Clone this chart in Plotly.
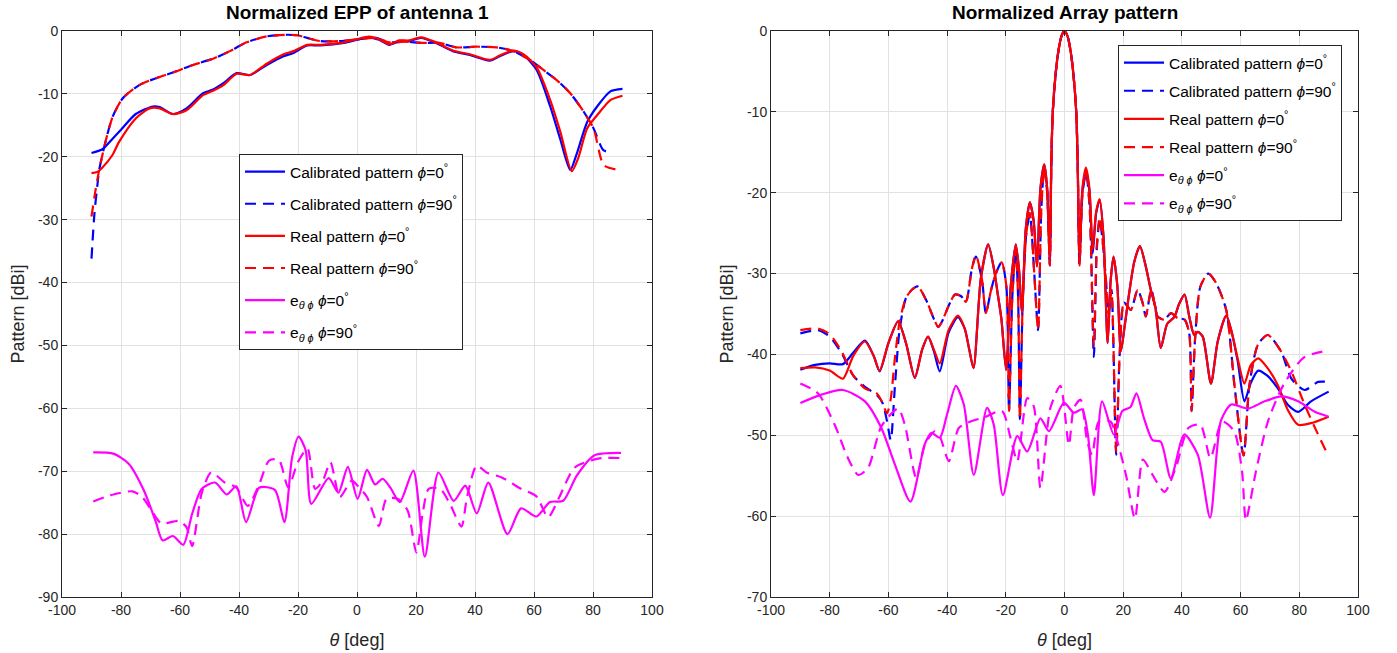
import plotly.graph_objects as go

FONT = "Liberation Sans, Arial, sans-serif"

# ---------------- Left panel: Normalized EPP of antenna 1 ----------------
th_epp_cal0 = [-90, -86.3, -83, -80, -75, -69.2, -66.9, -62.4, -57.8, -52.2, -48.8, -45.3, -40.8, -36.3,
               -30.6, -24.9, -21.5, -16.9, -12.4, -4.4, 0, 4.1, 7.5, 10.9, 14.3, 17.7, 21.7, 26.8, 32.5,
               38.2, 45, 48.4, 53, 56.4, 60.9, 65.5, 68.9, 72.3, 74.5, 78, 81.4, 85.9, 90]
epp_cal0 = [-19.4, -18.8, -17.2, -15.7, -13.2, -12.0, -12.1, -13.2, -12.3, -9.9, -9.3, -8.3, -6.7, -7.0,
            -5.4, -4.0, -3.5, -2.3, -2.3, -1.9, -1.4, -1.0, -1.4, -2.2, -1.6, -1.6, -1.1, -1.9, -3.2,
            -3.8, -4.7, -4.0, -3.2, -3.8, -6.2, -12.0, -17.2, -22.1, -19.5, -14.5, -12.0, -9.6, -9.2]

th_epp_real0 = [-90, -88, -86.3, -83, -80.6, -75, -70.3, -66.9, -62.4, -57.8, -52.2, -48.8, -45.3, -40.8,
                -36.3, -30.6, -24.9, -21.5, -16.9, -12.4, -4.4, 0, 4.1, 7.5, 10.9, 14.3, 17.7, 21.7, 26.8,
                32.5, 38.2, 45, 48.4, 53, 56.4, 60.9, 65.5, 68.9, 72.8, 75, 78, 81.4, 85.9, 90]
epp_real0 = [-22.6, -22.4, -21.7, -19.8, -17.6, -13.9, -12.3, -12.3, -13.2, -12.6, -10.2, -9.5, -8.6, -6.8,
             -7.0, -5.2, -3.7, -3.2, -2.2, -2.2, -1.8, -1.3, -0.9, -1.3, -2.1, -1.5, -1.5, -1.0, -1.8,
             -3.1, -3.7, -4.6, -3.9, -3.1, -3.7, -5.8, -11.0, -16.0, -22.3, -20.2, -15.5, -13.4, -11.0, -10.3]

th_epp_90 = [-87.4, -85.1, -82.8, -79.4, -73.8, -68.1, -62.4, -55.6, -48.8, -43.1, -37.4, -30.6, -23.8,
             -20, -16.9, -12.4, -5.6, 0, 6.4, 10.9, 16, 22.3, 28, 33.6, 40.5, 47.3, 53, 58.6, 63.2, 67.7,
             72.3, 76.8, 80.2, 83.6]
epp_90_common = [-22.1, -17.3, -13.6, -10.7, -8.6, -7.5, -6.6, -5.4, -4.4, -3.2, -1.8, -0.85, -0.6,
                 -0.7, -1.1, -1.6, -1.6, -1.3, -1.1, -1.8, -1.7, -1.9, -1.9, -2.6, -2.5, -2.6, -3.2, -4.6,
                 -6.2, -7.8, -9.9, -12.8, -15.5]
th_cal90_start = [-90, -89, -88]
cal90_start = [-36.2, -29.0, -24.5]
cal90_end_th = [83.6, 86.5, 90]
cal90_end = [-17.9, -19.0, -19.2]
th_real90_start = [-90, -88.7]
real90_start = [-29.5, -25.5]
real90_end_th = [83.6, 87.6, 90]
real90_end = [-18.7, -21.3, -22.0]

th_e0 = [-89.4, -82.6, -77.4, -72.2, -68.3, -65.9, -62.4, -58.9, -55.9, -52.6, -48.1, -44.2, -40.9, -37.6,
         -33.1, -27.8, -24.6, -22.0, -19.8, -17.4, -15.5, -9.6, -6.3, -3.1, 0.2, 3.4, 6.1, 8.7, 11.3, 14.5,
         19.1, 23.0, 27.6, 32.8, 36.7, 40.6, 44.5, 51.0, 55.6, 60.8, 65.4, 69.9, 74.5, 80.4, 89.5]
e0 = [-67.0, -67.2, -68.8, -73.1, -77.9, -81.0, -80.3, -81.7, -76.8, -72.8, -71.8, -73.7, -72.4, -78.1,
      -72.6, -73.0, -78.1, -67.8, -64.5, -66.7, -75.2, -71.1, -73.4, -69.3, -74.4, -69.8, -72.1, -71.2,
      -72.6, -74.9, -69.9, -83.6, -70.2, -74.7, -72.3, -76.7, -71.8, -80.0, -75.9, -77.2, -74.9, -74.7,
      -70.7, -67.5, -67.1]

th_e90 = [-89.4, -82.6, -76.1, -72.8, -69.6, -66.3, -60.4, -57.8, -55.9, -52.6, -49.4, -44.8, -40.9, -37.0,
          -33.1, -29.8, -26.5, -23.3, -20.1, -16.8, -14.2, -11.6, -9.0, -5.8, -1.8, 0.2, 3.4, 7.4, 10.0,
          13.9, 17.2, 20.1, 22.4, 24.3, 28.2, 31.5, 35.4, 37.3, 40.6, 43.9, 49.1, 55.6, 60.8, 64.8, 68.6,
          73.8, 81.7, 89.5]
e90 = [-74.8, -73.7, -73.2, -74.1, -76.3, -78.3, -77.9, -78.9, -81.9, -73.4, -70.2, -71.8, -72.6, -75.5,
       -72.0, -68.3, -68.2, -72.6, -68.6, -66.4, -72.8, -71.5, -68.6, -74.1, -71.5, -72.3, -74.1, -78.7,
       -74.4, -74.4, -76.3, -82.9, -76.3, -72.8, -72.8, -75.2, -78.8, -74.1, -69.1, -70.2, -71.0, -72.8,
       -74.0, -77.3, -74.1, -69.4, -68.0, -67.9]

# ---------------- Right panel: Normalized Array pattern ----------------
th_arr0 = [-90, -85, -80, -75.5, -72, -68, -65, -63, -60, -56.7, -54, -51, -48.5, -46.5, -44.5, -42.5,
           -39.5, -36.3, -34, -32.5, -31, -28.5, -26, -24, -22.8, -21.5, -19.9, -18.3, -16.6, -15.5,
           -14.5, -13.2, -11.8, -10.5, -9.4, -8.2, -6.9, -5.9, -5.0, -4.5, -4, -3, -2, -1, 0, 1, 2, 3,
           4, 4.5, 5.1, 6.1, 7.3, 8.5, 9.6, 10.8, 12, 13.3, 14.7, 15.7, 16.7, 18, 19.2, 20.5, 22, 23.8,
           25.7, 27.5, 29.4, 31, 32.8, 35, 37.4, 39, 40.9, 42.5, 44.2, 45.4, 47.1, 49.9, 52.2, 55.1,
           56.8, 59, 61.3, 63.5, 66, 69, 72.7, 76, 79.6, 84, 90]
arr_cal0 = [-41.9, -41.3, -41.1, -41.2, -39.8, -38.3, -40.2, -42.1, -38.6, -35.9, -38.6, -42.9, -39.4,
            -37.8, -39.6, -42.1, -37.3, -35.4, -36.8, -39.3, -41.7, -30.6, -26.4, -29.5, -32.4, -35.6,
            -41.9, -31.5, -26.4, -29.5, -34.9, -24.5, -21.2, -23.5, -29.1, -19.5, -16.5, -19.5, -28.9,
            -16.5, -10.0, -5.2, -2.3, -0.6, 0.0, -0.6, -2.3, -5.2, -10.0, -16.5, -28.7, -19.8, -17.4,
            -19.8, -27.5, -22.5, -20.9, -25.5, -38.6, -31.0, -27.9, -31.5, -39.6, -36.5, -32.5, -28.5,
            -26.6, -28.8, -32.0, -34.2, -39.2, -36.2, -35.4, -33.8, -32.6, -35.3, -37.6, -37.2, -37.8,
            -43.6, -38.4, -35.2, -37.0, -40.8, -45.8, -43.5, -42.0, -42.6, -44.2, -46.2, -47.1, -45.8,
            -44.6]
arr_real0 = [-41.7, -41.6, -42.0, -43.0, -40.2, -38.4, -40.2, -42.0, -38.6, -35.9, -38.6, -42.9, -39.4,
             -37.8, -39.4, -41.1, -37.0, -35.2, -36.8, -39.3, -41.7, -30.6, -26.4, -29.5, -32.4, -35.6,
             -41.9, -31.5, -26.4, -29.5, -34.9, -24.5, -21.2, -23.5, -29.1, -19.5, -16.5, -19.5, -28.9,
             -16.5, -10.0, -5.2, -2.3, -0.6, 0.0, -0.6, -2.3, -5.2, -10.0, -16.5, -28.7, -19.5, -16.9,
             -19.5, -27.0, -22.3, -20.8, -25.5, -38.6, -31.0, -27.9, -31.5, -39.6, -36.5, -32.5, -28.5,
             -26.6, -28.8, -32.0, -34.2, -39.2, -36.2, -35.4, -33.8, -32.6, -35.3, -37.6, -37.2, -37.8,
             -43.6, -38.4, -35.2, -37.0, -40.5, -43.6, -41.3, -40.5, -41.6, -43.8, -46.8, -48.7, -48.5,
             -47.7]

th_arr90 = [-90, -84, -80, -76, -72, -68, -64, -62, -60.5, -59.2, -57.8, -56.2, -54, -52, -50, -47.1,
            -44.4, -43, -41.7, -39.5, -37.3, -35.2, -33.6, -31.6, -30.2, -28.1, -26.8, -25, -23.4, -21.4,
            -19.8, -18.9, -17.8, -16.6, -15.8, -15.2, -14.2, -13, -11.8, -10.3, -9, -7.9, -6.9, -5.9,
            -5.0, -4.5, -4, -3, -2, -1, 0, 1, 2, 3, 4, 4.5, 5.1, 6.2, 7.4, 8.6, 10, 11, 12, 13, 14.1,
            15, 16, 17.6, 18.8, 20.3, 22.6, 24.9, 26.6, 27.7, 29.6, 31.7, 34, 36.3, 38.5, 40.9, 42.5,
            43.3, 44.5, 46.3, 49, 51.7, 55.1, 57.9, 61, 63, 65.9, 69.3, 73.9, 77.3, 81.8, 86.4, 90]
arr_cal90 = [-37.4, -37.0, -37.8, -39.8, -42.6, -44.0, -45.0, -46.0, -48.2, -50.6, -44.0, -37.0, -33.0,
             -32.0, -31.6, -33.3, -35.7, -36.6, -35.9, -34.0, -32.6, -32.8, -33.5, -29.5, -27.9, -30.8,
             -34.9, -32.0, -30.0, -28.6, -31.6, -47.0, -33.0, -27.2, -33.0, -48.0, -33.0, -25.0, -22.7,
             -30.0, -37.0, -22.0, -17.0, -20.0, -29.0, -16.5, -10.0, -5.2, -2.3, -0.6, 0.0, -0.6, -2.3,
             -5.2, -10.0, -16.5, -29.0, -19.8, -17.6, -22.0, -40.3, -27.0, -23.3, -26.0, -30.7, -35.0,
             -32.0, -52.4, -40.0, -33.6, -34.5, -32.0, -33.6, -35.3, -32.0, -35.3, -35.7, -34.9, -35.5,
             -35.7, -37.4, -47.0, -38.0, -31.6, -30.0, -31.2, -34.5, -43.8, -52.5, -43.8, -38.8, -37.6,
             -39.7, -43.0, -44.4, -43.4, -43.4]
arr_real90 = [-37.0, -36.8, -37.5, -39.6, -42.6, -44.2, -44.8, -46.0, -47.3, -45.5, -40.5, -36.0, -33.0,
              -32.0, -31.6, -33.3, -35.7, -36.6, -35.9, -34.0, -32.6, -32.8, -33.5, -29.5, -27.7, -30.8,
              -34.9, -32.0, -30.0, -28.6, -31.6, -47.0, -33.0, -27.0, -33.0, -48.0, -33.0, -25.0, -22.5,
              -30.0, -37.0, -22.0, -17.0, -20.0, -29.0, -16.5, -10.0, -5.2, -2.3, -0.6, 0.0, -0.6, -2.3,
              -5.2, -10.0, -16.5, -29.0, -19.5, -17.2, -22.0, -39.0, -26.5, -23.0, -26.0, -30.7, -35.0,
              -32.0, -52.0, -40.0, -33.6, -34.5, -32.0, -33.6, -35.3, -32.0, -35.3, -35.7, -34.9, -35.5,
              -35.7, -37.4, -47.0, -38.0, -31.6, -30.0, -31.2, -34.5, -43.8, -52.5, -43.8, -38.8, -37.6,
              -39.7, -42.1, -46.2, -49.9, -52.6]

th_arr_e0 = [-90, -83, -75.5, -68, -62.4, -57.8, -52.5, -47.6, -45.3, -42.5, -40, -37, -34.3, -30.9, -26.4,
             -24.1, -21, -16.1, -12.7, -8.2, -5.3, -0.2, 3.2, 6, 8, 10, 12.8, 16.8, 19.7, 22.5, 24.5,
             27.1, 30, 32.8, 36.2, 40.8, 45.4, 49.6, 53.3, 56.8, 62.5, 68.2, 73.9, 79.6, 85.3, 90]
arr_e0 = [-46.0, -45.0, -44.4, -45.8, -49.1, -53.6, -58.2, -51.1, -49.7, -50.3, -47.4, -43.9, -46.2,
          -54.9, -46.6, -48.7, -57.4, -50.1, -52.0, -47.9, -49.5, -46.0, -47.2, -46.8, -50.0, -57.4,
          -45.8, -49.9, -47.0, -46.5, -44.8, -47.9, -50.6, -50.8, -55.3, -49.9, -52.4, -60.2, -48.2,
          -46.2, -46.7, -45.8, -45.2, -45.8, -47.1, -47.7]

th_arr_e90 = [-90, -84, -78.3, -73.8, -70.3, -66.9, -62.4, -56.7, -54.4, -50.5, -47.6, -44.2, -42.3, -39.4,
              -36, -32, -27.5, -21.3, -18.4, -16.1, -12.7, -10.5, -8.2, -4.8, -1.4, 1.5, 3.2, 5.5, 7.7,
              9.4, 11.7, 15.7, 18, 21, 24, 26.7, 30, 34.1, 38.2, 42.2, 46.3, 49.7, 53.7, 57.8, 60.5, 61.8,
              65.2, 69.3, 74.7, 81.5, 90]
arr_e90 = [-43.6, -44.8, -48.7, -52.8, -54.9, -54.0, -48.9, -46.7, -48.7, -55.3, -51.2, -49.5, -50.3,
           -53.2, -49.1, -48.3, -47.8, -47.0, -50.3, -53.2, -45.4, -46.4, -56.5, -46.6, -43.9, -51.2,
           -46.6, -45.6, -50.7, -52.4, -48.3, -48.3, -50.7, -55.0, -60.3, -53.0, -54.9, -57.0, -53.7,
           -49.1, -48.7, -52.8, -48.3, -49.5, -54.5, -60.5, -54.5, -48.3, -43.7, -40.4, -39.5]

x_ticks = [-100, -80, -60, -40, -20, 0, 20, 40, 60, 80, 100]
y_ticks_left = [-90, -80, -70, -60, -50, -40, -30, -20, -10, 0]
y_ticks_right = [-70, -60, -50, -40, -30, -20, -10, 0]

PHI = "<i>\u03d5</i>"
names = ["Calibrated pattern " + PHI + "=0<sup>°</sup>",
         "Calibrated pattern " + PHI + "=90<sup>°</sup>",
         "Real pattern " + PHI + "=0<sup>°</sup>",
         "Real pattern " + PHI + "=90<sup>°</sup>",
         "e<sub><i>θ</i> " + PHI + "</sub> " + PHI + "=0<sup>°</sup>",
         "e<sub><i>θ</i> " + PHI + "</sub> " + PHI + "=90<sup>°</sup>"]

BLUE, RED, MAG = "#0000ff", "#ff0000", "#ff00ff"
DASH = "11px,7px"

fig = go.Figure()


def add(x, y, name, color, dash, xa, ya, leg):
    fig.add_trace(go.Scatter(
        x=x, y=y, mode="lines", name=name,
        line=dict(color=color, width=2.2, dash=dash, shape="spline", smoothing=0.7),
        xaxis=xa, yaxis=ya, legend=leg, legendgroup=leg + name))


cal90_th = th_cal90_start + th_epp_90 + cal90_end_th[1:]
cal90_v = cal90_start + epp_90_common + cal90_end[1:]
real90_th = th_real90_start + th_epp_90 + real90_end_th[1:]
real90_v = real90_start + epp_90_common + real90_end[1:]

add(th_epp_cal0, epp_cal0, names[0], BLUE, "solid", "x", "y", "legend")
add(cal90_th, cal90_v, names[1], BLUE, DASH, "x", "y", "legend")
add(th_epp_real0, epp_real0, names[2], RED, "solid", "x", "y", "legend")
add(real90_th, real90_v, names[3], RED, DASH, "x", "y", "legend")
add(th_e0, e0, names[4], MAG, "solid", "x", "y", "legend")
add(th_e90, e90, names[5], MAG, DASH, "x", "y", "legend")

add(th_arr0, arr_cal0, names[0], BLUE, "solid", "x2", "y2", "legend2")
add(th_arr90, arr_cal90, names[1], BLUE, DASH, "x2", "y2", "legend2")
add(th_arr0, arr_real0, names[2], RED, "solid", "x2", "y2", "legend2")
add(th_arr90, arr_real90, names[3], RED, DASH, "x2", "y2", "legend2")
add(th_arr_e0, arr_e0, names[4], MAG, "solid", "x2", "y2", "legend2")
add(th_arr_e90, arr_e90, names[5], MAG, DASH, "x2", "y2", "legend2")

W, H = 1397, 653
AX = "#262626"
common = dict(showgrid=True, gridcolor="#e2e2e2", gridwidth=1, zeroline=False, showline=True,
              linecolor=AX, linewidth=1, mirror="ticks", ticks="inside", ticklen=5, tickcolor=AX,
              automargin=False, tickfont=dict(family=FONT, size=14, color=AX))

ydom = [1 - 597 / H, 1 - 31 / H]
xdom1 = [62 / W, 652 / W]
xdom2 = [771 / W, 1358 / W]


def xax(dom, anchor):
    return dict(common, domain=dom, anchor=anchor, range=[-100, 100], tickvals=x_ticks,
                ticktext=[str(v) for v in x_ticks],
                title=dict(text="<i>θ</i> [deg]", font=dict(family=FONT, size=18, color=AX), standoff=16))


def yax(dom, anchor, ticks, rng):
    return dict(common, domain=dom, anchor=anchor, range=rng, tickvals=ticks,
                ticktext=[str(v) for v in ticks],
                title=dict(text="Pattern [dBi]", font=dict(family=FONT, size=18, color=AX), standoff=8))


legend_common = dict(bgcolor="white", bordercolor=AX, borderwidth=1, xanchor="left", yanchor="top",
                     font=dict(family=FONT, size=15.5, color="#000000"), itemwidth=40)

fig.update_layout(
    width=W, height=H, autosize=False,
    margin=dict(l=0, r=0, t=0, b=0),
    paper_bgcolor="white", plot_bgcolor="white",
    font=dict(family=FONT),
    xaxis=xax(xdom1, "y"),
    yaxis=yax(ydom, "x", y_ticks_left, [-90, 0]),
    xaxis2=xax(xdom2, "y2"),
    yaxis2=yax(ydom, "x2", y_ticks_right, [-70, 0]),
    legend=dict(legend_common, x=239 / W, y=1 - 154 / H, tracegroupgap=9),
    legend2=dict(legend_common, x=1118 / W, y=1 - 45 / H, tracegroupgap=5),
    showlegend=True,
    annotations=[
        dict(text="<b>Normalized EPP of antenna 1</b>", x=(xdom1[0] + xdom1[1]) / 2, y=1 - 13 / H,
             xref="paper", yref="paper", showarrow=False, xanchor="center", yanchor="middle",
             font=dict(family=FONT, size=19, color="black")),
        dict(text="<b>Normalized Array pattern</b>", x=(xdom2[0] + xdom2[1]) / 2, y=1 - 13 / H,
             xref="paper", yref="paper", showarrow=False, xanchor="center", yanchor="middle",
             font=dict(family=FONT, size=19, color="black")),
    ],
)

fig.write_html("out.html")
